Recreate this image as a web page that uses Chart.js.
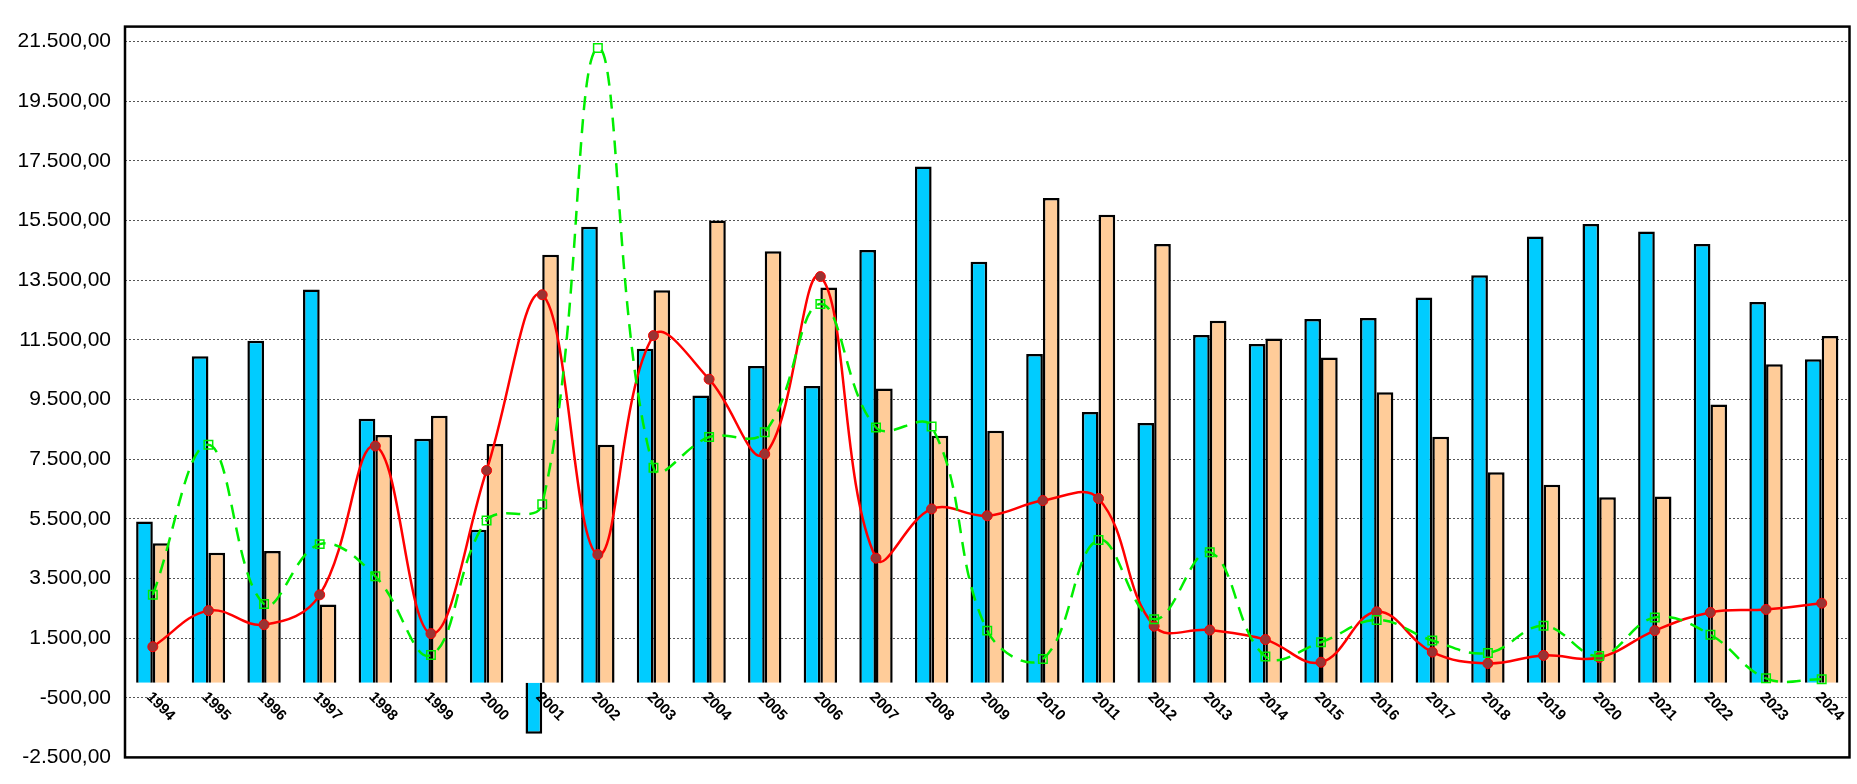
<!DOCTYPE html>
<html>
<head>
<meta charset="utf-8">
<script src="https://cdn.jsdelivr.net/npm/chart.js@4"></script>
<style>
  html, body { margin: 0; padding: 0; background: #fff; }
  #wrap { width: 1857px; height: 784px; }
</style>
</head>
<body>
<div id="wrap"><canvas id="chart"></canvas></div>
<script>
const years = ['1994','1995','1996','1997','1998','1999','2000','2001','2002','2003','2004','2005','2006','2007','2008','2009','2010','2011','2012','2013','2014','2015','2016','2017','2018','2019','2020','2021','2022','2023','2024'];
const blueVals = [5410,10950,11470,13190,8850,8180,5130,-1710,15290,11200,9630,10620,9950,14510,17310,14120,11020,9080,8710,11660,11360,12200,12230,12920,13660,14960,15380,15130,14710,12770,10850];
const tanVals = [4680,4360,4420,2630,8310,8950,8010,14350,7980,13160,15500,14470,13250,9870,8280,8450,16250,15690,14710,12140,11540,10910,9740,8250,7060,6640,6220,6250,9330,10680,11630];
const redVals = [1210,2420,1950,2950,7940,1650,7120,13010,4300,11640,10180,7670,13620,4180,5830,5600,6110,6180,1900,1770,1450,690,2380,1030,650,920,850,1750,2360,2460,2670];
const greenVals = [2950,7980,2640,4650,3570,930,5440,5990,21280,7210,8240,8400,12700,8560,8590,1750,800,4790,2130,4380,880,1360,2110,1420,1000,1910,900,2190,1610,150,120];
const yTicks = [-2500,-500,1500,3500,5500,7500,9500,11500,13500,15500,17500,19500,21500];

const fmt = v => v.toLocaleString('de-DE', { minimumFractionDigits: 2, maximumFractionDigits: 2 });

// etiquetas del eje X inclinadas hacia abajo, junto a la línea del cero
const slantLabels = {
  id: 'slantLabels',
  afterDatasetsDraw(chart) {
    const { ctx, scales: { x, y } } = chart;
    const y0 = y.getPixelForValue(0);
    ctx.save();
    ctx.font = 'bold 15px "Liberation Sans", Arial, sans-serif';
    ctx.fillStyle = '#000';
    ctx.textAlign = 'left';
    ctx.textBaseline = 'middle';
    years.forEach((lab, i) => {
      const px = x.getPixelForValue(i);
      ctx.save();
      ctx.translate(px - 4, y0 + 12);
      ctx.rotate(Math.PI / 4);
      ctx.fillText(lab, 0, 0);
      ctx.restore();
    });
    ctx.restore();
  }
};

const plotBorder = {
  id: 'plotBorder',
  afterDraw(chart) {
    const { ctx, chartArea: a } = chart;
    ctx.save();
    ctx.strokeStyle = '#000';
    ctx.lineWidth = 2.5;
    ctx.strokeRect(a.left, a.top, a.right - a.left, a.bottom - a.top);
    ctx.restore();
  }
};

new Chart(document.getElementById('chart'), {
  data: {
    labels: years,
    datasets: [
      { type: 'bar', data: blueVals, backgroundColor: '#00ccff', borderColor: '#000', borderWidth: 2.5,
        categoryPercentage: 0.6, barPercentage: 1, order: 2 },
      { type: 'bar', data: tanVals, backgroundColor: '#ffcc99', borderColor: '#000', borderWidth: 2.5,
        categoryPercentage: 0.6, barPercentage: 1, order: 2 },
      { type: 'line', data: redVals, borderColor: '#ff0000', borderWidth: 2.5, tension: 0.4,
        pointRadius: 5, pointBackgroundColor: '#993333', pointBorderColor: '#ff0000', pointBorderWidth: 1, order: 1 },
      { type: 'line', data: greenVals, borderColor: '#00ee00', borderWidth: 2.5, borderDash: [14, 9], tension: 0.4,
        pointStyle: 'rect', pointRadius: 6, pointBackgroundColor: 'rgba(0,0,0,0)', pointBorderColor: '#00ee00', pointBorderWidth: 1.5, order: 0 }
    ]
  },
  options: {
    responsive: true,
    maintainAspectRatio: false,
    animation: false,
    layout: { padding: { top: 10, right: 3, bottom: 11, left: 0 } },
    plugins: { legend: { display: false }, tooltip: { enabled: false } },
    scales: {
      x: {
        ticks: { display: false },
        grid: { display: false },
        border: { display: false }
      },
      y: {
        min: -2500,
        max: 22000,
        afterBuildTicks: s => { s.ticks = yTicks.map(v => ({ value: v })); },
        afterFit: s => { s.width = 125; },
        ticks: {
          callback: v => fmt(v),
          color: '#000',
          font: { family: '"Liberation Sans", Arial, sans-serif', size: 21 },
          padding: 14
        },
        grid: { color: '#555', lineWidth: 1, drawTicks: false },
        border: { display: false, dash: [2, 2] }
      }
    }
  },
  plugins: [slantLabels, plotBorder]
});
</script>
</body>
</html>
